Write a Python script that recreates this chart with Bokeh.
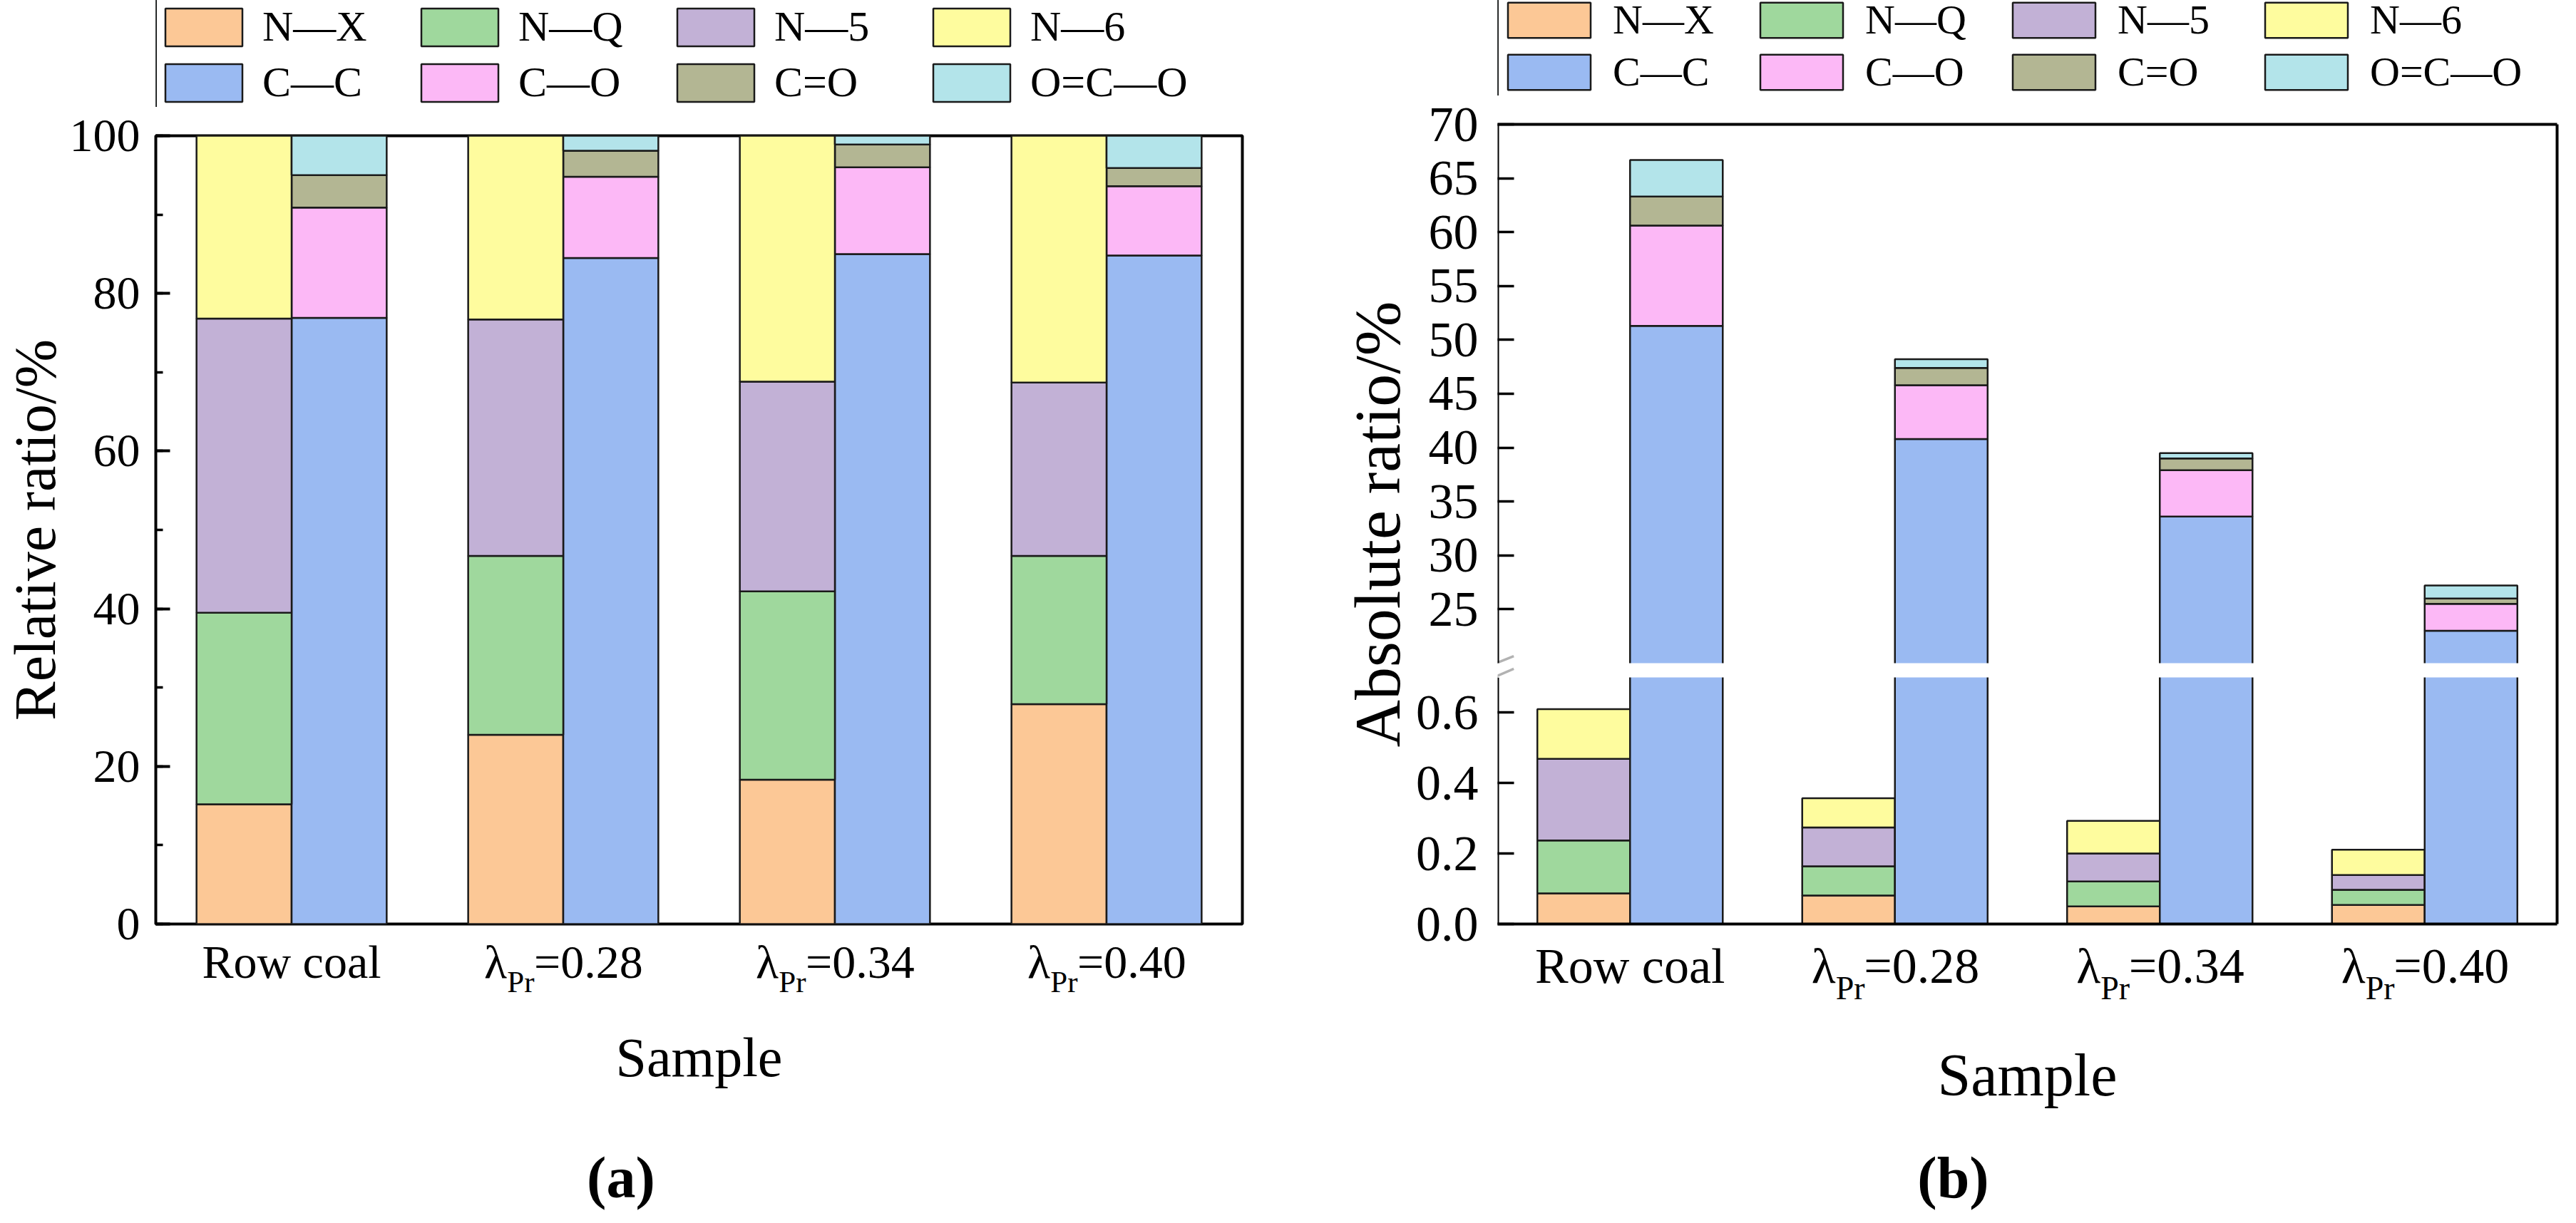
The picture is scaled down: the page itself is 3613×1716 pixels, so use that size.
import numpy as np
from bokeh.plotting import figure
from bokeh.models import (Range1d, Legend, LegendItem, FixedTicker, LinearAxis,
                          SingleIntervalTicker, BoxAnnotation, PolyAnnotation,
                          ColumnDataSource)
from bokeh.layouts import row, column
from bokeh.embed import file_html
from bokeh.resources import INLINE

# ---------------- data ----------------
SAMPLES = ["Row coal", "λPr=0.28", "λPr=0.34", "λPr=0.40"]
LABEL_PARTS = [("Row coal", "", ""), ("λ", "Pr", "=0.28"),
               ("λ", "Pr", "=0.34"), ("λ", "Pr", "=0.40")]

N_NAMES = ["N—X", "N—Q", "N—5", "N—6"]
C_NAMES = ["C—C", "C—O", "C=O", "O=C—O"]
N_COLORS = ["#FCC896", "#9FD89D", "#C2B1D6", "#FEFC9E"]
C_COLORS = ["#9ABAF2", "#FCB8F6", "#B3B693", "#B3E4EA"]

# (a) relative ratio, %
REL_NX = [15.2, 24.0, 18.3, 27.9]
REL_NQ = [24.3, 22.7, 23.9, 18.8]
REL_N5 = [37.3, 30.0, 26.6, 22.0]
REL_N6 = [23.2, 23.3, 31.2, 31.3]
REL_CC = [76.9, 84.5, 85.0, 84.8]
REL_CO = [14.0, 10.3, 11.0, 8.8]
REL_CdO = [4.1, 3.3, 2.9, 2.3]
REL_OCO = [5.0, 1.9, 1.1, 4.1]

# (b) absolute ratio, %
ABS_NX = [0.087, 0.081, 0.050, 0.054]
ABS_NQ = [0.150, 0.083, 0.071, 0.043]
ABS_N5 = [0.232, 0.110, 0.079, 0.042]
ABS_N6 = [0.141, 0.083, 0.093, 0.072]
ABS_CC = [51.3, 40.8, 33.6, 23.0]
ABS_CO = [9.3, 5.0, 4.3, 2.5]
ABS_CdO = [2.7, 1.6, 1.1, 0.5]
ABS_OCO = [3.4, 0.8, 0.5, 1.2]

FONT = "Liberation Serif"
LINE = "#1a1a1a"
BAR_W = 0.35
OFF = 0.175
CHAR_W = {"=": 0.564, ".": 0.25}
NCAT = len(SAMPLES)
XC = np.arange(NCAT) + 0.5          # category centres on the x scale


def stack(series):
    arr = np.array(series, dtype=float)
    tops = np.cumsum(arr, axis=0)
    return tops - arr, tops


def base_style(p):
    p.grid.visible = False
    p.background_fill_color = "white"
    p.border_fill_color = "white"


def style_axis(ax, fs, standoff, bold=False):
    ax.major_tick_line_color = None
    ax.minor_tick_line_color = None
    ax.major_tick_in = 0
    ax.major_tick_out = 0
    ax.minor_tick_in = 0
    ax.minor_tick_out = 0
    ax.axis_line_color = None
    ax.major_label_standoff = standoff
    ax.major_label_text_font = FONT
    ax.major_label_text_font_size = f"{fs}px"
    ax.major_label_text_color = "black"
    ax.major_label_text_font_style = "bold" if bold else "normal"
    ax.axis_label_text_font = FONT
    ax.axis_label_text_font_style = "normal"
    ax.axis_label_text_color = "black"


def line_axis(**kw):
    ax = LinearAxis(ticker=FixedTicker(ticks=[]), **kw)
    style_axis(ax, 10, 0)
    ax.axis_line_color = "black"
    ax.axis_line_width = 4
    return ax


def text_axis(items, fs, standoff, bold=False):
    ax = LinearAxis(ticker=FixedTicker(ticks=[t for t, _ in items], minor_ticks=[]),
                    major_label_overrides={t: s for t, s in items})
    style_axis(ax, fs, standoff, bold)
    return ax


def label_pieces(fx, main_fs, sub_fs):
    """positions (in x-scale units) of the pieces of the category labels"""
    main, sub = [], []
    for i, (a, b, c) in enumerate(LABEL_PARTS):
        cx = XC[i] * fx
        if not b:
            main.append((cx / fx, a))
            continue
        wa = 0.5 * main_fs
        wb = (0.556 + 0.333) * sub_fs
        wc = sum(CHAR_W.get(ch, 0.5) for ch in c) * main_fs
        start = cx - (wa + wb + wc) / 2
        main.append(((start + wa / 2) / fx, a))
        sub.append(((start + wa + wb / 2) / fx, b))
        main.append(((start + wa + wb + wc / 2) / fx, c))
    return main, sub


def add_bottom_texts(p, fx, main_fs, sub_fs, s1, s2, sample_fs, als, cap, cap_px, cap_fs, s3,
                     frame_line=False):
    main, sub = label_pieces(fx, main_fs, sub_fs)
    ax1 = text_axis(main, main_fs, s1)
    if frame_line:
        ax1.axis_line_color = "black"
        ax1.axis_line_width = 4
    ax2 = text_axis(sub, sub_fs, s2)
    ax2.axis_label = "Sample"
    ax2.axis_label_text_font_size = f"{sample_fs}px"
    ax2.axis_label_standoff = als
    ax3 = text_axis([(cap_px / fx, cap)], cap_fs, s3, bold=True)
    for ax in (ax1, ax2, ax3):
        p.add_layout(ax, "below")


def legend_figure(width, height, left, gw, gh, fs, standoff, spacing, label_w):
    lf = figure(width=width, height=height, x_range=Range1d(0, 1), y_range=Range1d(0, 1),
                min_border_left=left, min_border_right=0, min_border_top=0,
                min_border_bottom=0, x_axis_location=None, y_axis_location=None,
                output_backend="svg", toolbar_location=None, tools="")
    base_style(lf)
    lf.outline_line_color = None
    items = []
    for name, color in zip(N_NAMES + C_NAMES, N_COLORS + C_COLORS):
        # legend proxy: one bar placed outside the visible x range
        r = lf.vbar(x=[-5.0], top=[1.0], width=0.1, fill_color=color, line_color=LINE,
                    line_width=2.5)
        items.append(LegendItem(label=name, renderers=[r]))
    leg = Legend(items=items, orientation="horizontal", nrows=2,
                 glyph_width=gw, glyph_height=gh, label_standoff=standoff,
                 spacing=spacing, padding=0, margin=0, location=(0, 0),
                 label_width=label_w, label_height=gh, border_line_color=None,
                 background_fill_alpha=0, label_text_font=FONT,
                 label_text_font_size=f"{fs}px", label_text_line_height=1.0,
                 label_text_color="black")
    lf.add_layout(leg)
    return lf


# ---------------- panel (a) ----------------
A_W = 1861
LEG_A_H = 150
A_H = 1700 - LEG_A_H
A_L, A_T, A_R, A_FH = 212, 40, 119, 1113
A_B = A_H - A_T - A_FH
A_FW = A_W - A_L - A_R
fxa = A_FW / NCAT

pa = figure(x_range=Range1d(0, NCAT), y_range=Range1d(0, 100), width=A_W, height=A_H,
            min_border_left=A_L, min_border_right=A_R, min_border_top=A_T,
            min_border_bottom=A_B, x_axis_location=None,
            output_backend="svg", toolbar_location=None, tools="")
base_style(pa)
pa.outline_line_color = "black"
pa.outline_line_width = 4

nb, nt = stack([REL_NX, REL_NQ, REL_N5, REL_N6])
cb, ct = stack([REL_CC, REL_CO, REL_CdO, REL_OCO])
src_a = {"sample": SAMPLES, "xn": XC - OFF, "xc": XC + OFF}
for k in range(4):
    src_a[f"nb{k}"], src_a[f"nt{k}"] = nb[k], nt[k]
    src_a[f"cb{k}"], src_a[f"ct{k}"] = cb[k], ct[k]
src_a = ColumnDataSource(src_a)

for k in range(4):
    pa.vbar(x="xn", width=BAR_W, bottom=f"nb{k}", top=f"nt{k}", source=src_a,
            fill_color=N_COLORS[k], line_color=LINE, line_width=2.5)
    pa.vbar(x="xc", width=BAR_W, bottom=f"cb{k}", top=f"ct{k}", source=src_a,
            fill_color=C_COLORS[k], line_color=LINE, line_width=2.5)

ya = pa.yaxis[0]
style_axis(ya, 66, 22)
ya.ticker = SingleIntervalTicker(interval=20, num_minor_ticks=2)
ya.major_tick_line_color = "black"
ya.minor_tick_line_color = "black"
ya.major_tick_in = 20
ya.minor_tick_in = 10
ya.major_tick_line_width = 4
ya.minor_tick_line_width = 3.5
ya.axis_label = "Relative ratio/%"
ya.axis_label_text_font_size = "82px"
ya.axis_label_standoff = 0

add_bottom_texts(pa, fxa, 66, 43, 16, -35, 78, 36, "(a)", 875 - 220, 82, 77)

leg_a = legend_figure(A_W, LEG_A_H, 154, 135, 66, 60, 15, 9, 200)

# ---------------- panel (b) ----------------
B_W = 1736
LEG_B_H = 134
B_H = 1700 - LEG_B_H
B_L, B_T, B_R, B_FH = 218, 40, 11, 1125
B_B = B_H - B_T - B_FH
B_FW = B_W - B_L - B_R
fxb = B_FW / NCAT
LOW_MAX = 0.7
UP_MIN, UP_MAX = 20.0, 70.0
LOW_PX, GAP_PX = 347, 20
UP_PX = B_FH - LOW_PX - GAP_PX
lo_end = LOW_MAX * B_FH / LOW_PX
up_start = UP_MAX - (UP_MAX - UP_MIN) * B_FH / UP_PX


def up_to_low(v):
    return (v - up_start) / (UP_MAX - up_start) * lo_end


def low_to_up(v):
    return up_start + v / lo_end * (UP_MAX - up_start)


gap_lo, gap_hi = LOW_MAX, up_to_low(UP_MIN)
gap_mid = (gap_lo + gap_hi) / 2

pb = figure(x_range=Range1d(0, NCAT), y_range=Range1d(0, lo_end), width=B_W, height=B_H,
            min_border_left=B_L, min_border_right=B_R, min_border_top=B_T,
            min_border_bottom=B_B, x_axis_location=None,
            output_backend="svg", toolbar_location=None, tools="")
base_style(pb)
pb.outline_line_color = None
pb.extra_y_ranges = {"upper": Range1d(up_start, UP_MAX)}

nb, nt = stack([ABS_NX, ABS_NQ, ABS_N5, ABS_N6])
cb, ct = stack([ABS_CC, ABS_CO, ABS_CdO, ABS_OCO])
cb[0] = np.full(NCAT, low_to_up(gap_mid))
src_b = {"sample": SAMPLES, "xn": XC - OFF, "xc": XC + OFF, "cc_lo_b": np.zeros(NCAT),
         "cc_lo_t": np.minimum(np.array(ABS_CC), gap_mid)}
for k in range(4):
    src_b[f"nb{k}"], src_b[f"nt{k}"] = nb[k], nt[k]
    src_b[f"cb{k}"], src_b[f"ct{k}"] = cb[k], ct[k]
src_b = ColumnDataSource(src_b)

for k in range(4):
    pb.vbar(x="xn", width=BAR_W, bottom=f"nb{k}", top=f"nt{k}", source=src_b,
            fill_color=N_COLORS[k], line_color=LINE, line_width=2.5)
pb.vbar(x="xc", width=BAR_W, bottom="cc_lo_b", top="cc_lo_t", source=src_b,
        fill_color=C_COLORS[0], line_color=LINE, line_width=2.5)
for k in range(4):
    pb.vbar(x="xc", width=BAR_W, bottom=f"cb{k}", top=f"ct{k}", source=src_b,
            y_range_name="upper", fill_color=C_COLORS[k], line_color=LINE, line_width=2.5)

pb.add_layout(BoxAnnotation(bottom=gap_lo, top=gap_hi, left=0, right=NCAT - 3 / fxb,
                            fill_color="white", fill_alpha=1, line_color=None, line_alpha=0))

# frame lines: top and right
pb.add_layout(line_axis(), "above")
pb.add_layout(line_axis(), "right")

# y axis: ticks of both segments on one axis
LOW_TICKS = [0.0, 0.2, 0.4, 0.6]
UP_TICKS = [25, 30, 35, 40, 45, 50, 55, 60, 65, 70]
tick_pos = list(LOW_TICKS) + [up_to_low(v) for v in UP_TICKS]
overrides = {t: f"{t:.1f}" for t in LOW_TICKS}
overrides.update({up_to_low(v): str(v) for v in UP_TICKS})
yl = pb.yaxis[0]
style_axis(yl, 70, 27)
yl.ticker = FixedTicker(ticks=tick_pos, minor_ticks=[])
yl.major_label_overrides = overrides
yl.major_tick_line_color = "black"
yl.major_tick_in = 23
yl.major_tick_line_width = 3.5

# axis title (label-only axis)
yt = LinearAxis(ticker=FixedTicker(ticks=[]))
style_axis(yt, 10, 0)
yt.axis_label = "Absolute ratio/%"
yt.axis_label_text_font_size = "92px"
yt.axis_label_standoff = 0
pb.add_layout(yt, "left")

# left frame line in two pieces (broken axis)
pb.add_layout(line_axis(fixed_location=0.0, bounds=(0, LOW_MAX)), "left")
pb.add_layout(line_axis(fixed_location=0.0, y_range_name="upper", bounds=(UP_MIN, UP_MAX)),
              "left")

ppu_b = B_FH / lo_end
B_BOTTOM = LEG_B_H + B_T + B_FH + 8


def bpt(px_x, page_y):
    return px_x / fxb, (B_BOTTOM - page_y) / ppu_b


for (x1, y1, x2, y2) in ((-22, 948, 23, 930), (-22, 967, 23, 948)):
    a1, b1 = bpt(x1, y1)
    a2, b2 = bpt(x2, y2)
    pb.add_layout(PolyAnnotation(xs=[a1, a2], ys=[b1, b2], fill_alpha=0,
                                 line_color="black", line_width=3.5))

add_bottom_texts(pb, fxb, 70, 46, 20, -36, 84, 47, "(b)", 2735 - 2087, 82, 49,
                 frame_line=True)

leg_b = legend_figure(B_W, LEG_B_H, 239, 145, 62, 58, 17, 6, 186)

layout = row(column(leg_a, pa), column(leg_b, pb))
open("out.html", "w").write(file_html(layout, INLINE))
